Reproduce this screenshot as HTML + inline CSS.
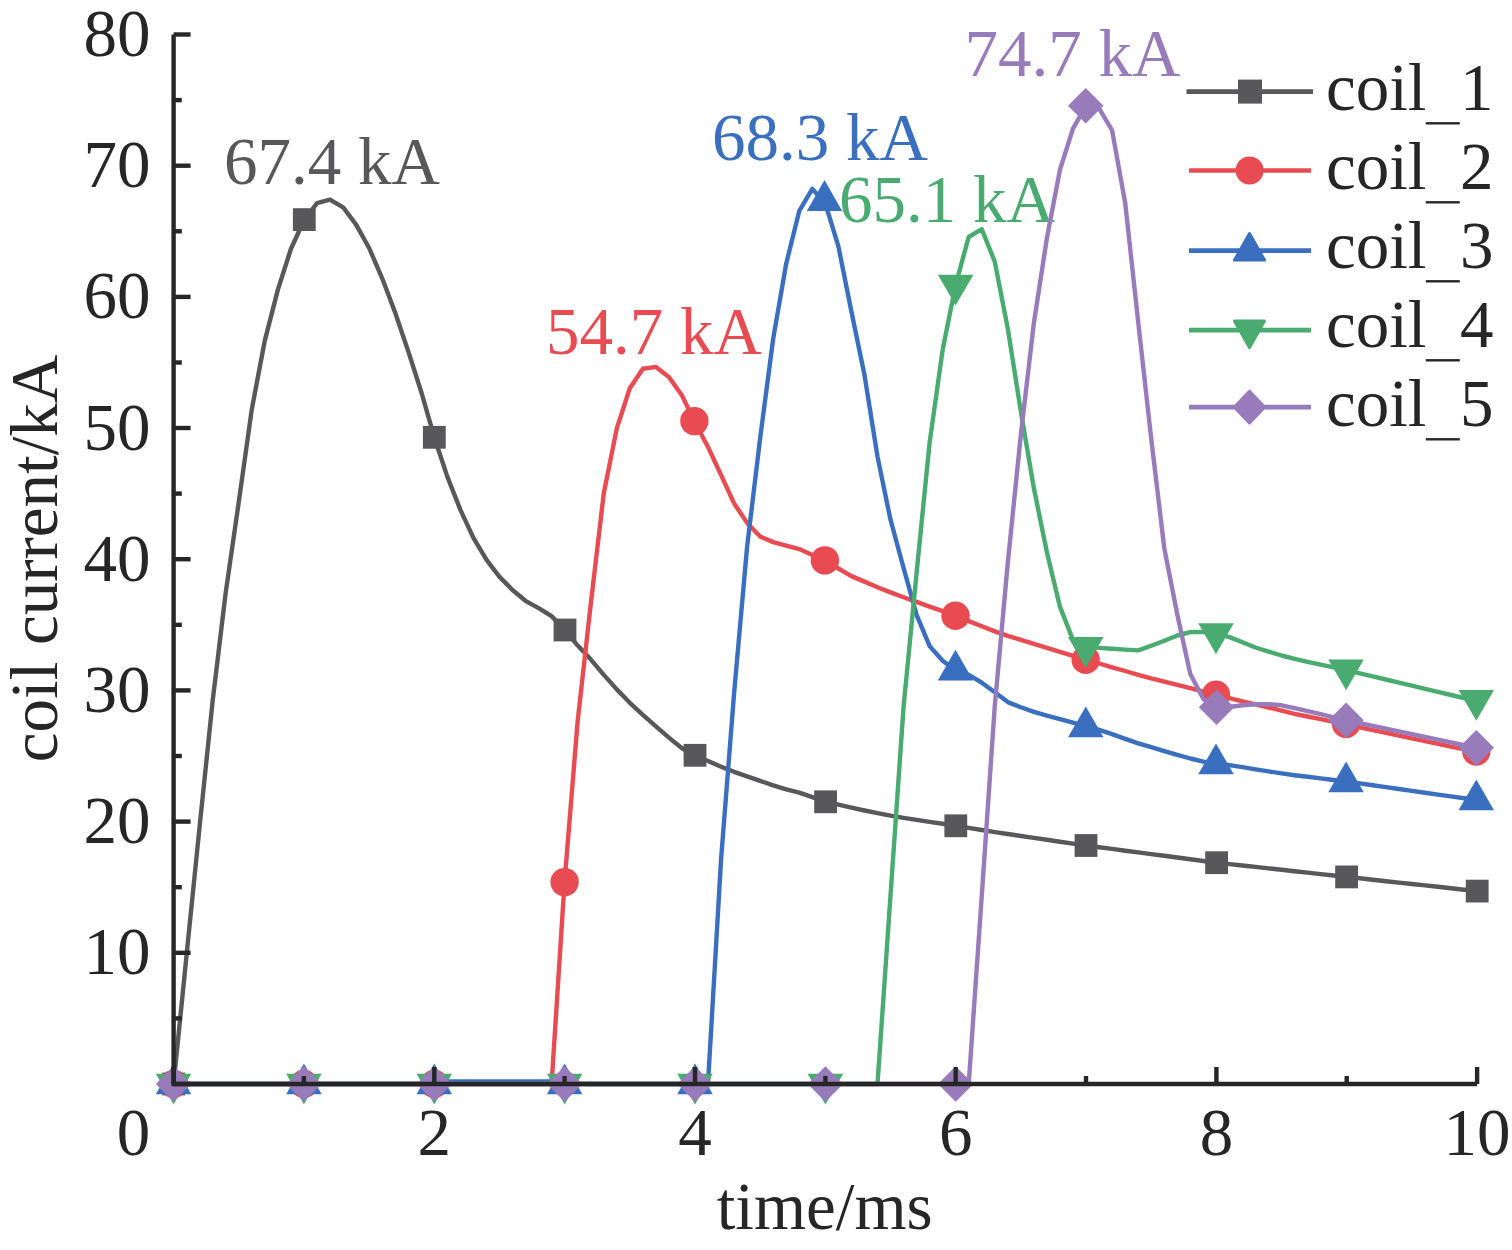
<!DOCTYPE html>
<html><head><meta charset="utf-8"><style>
html,body{margin:0;padding:0;background:#fff;width:1512px;height:1250px;overflow:hidden}
svg{display:block;font-family:"Liberation Serif",serif}
</style></head><body>
<svg width="1512" height="1250" viewBox="0 0 1512 1250">
<rect width="1512" height="1250" fill="#fff"/>
<text x="150.6" y="974.3" font-family="Liberation Serif" font-size="67" text-anchor="end" fill="#262626">10</text>
<text x="150.6" y="843.1" font-family="Liberation Serif" font-size="67" text-anchor="end" fill="#262626">20</text>
<text x="150.6" y="711.9" font-family="Liberation Serif" font-size="67" text-anchor="end" fill="#262626">30</text>
<text x="150.6" y="580.7" font-family="Liberation Serif" font-size="67" text-anchor="end" fill="#262626">40</text>
<text x="150.6" y="449.5" font-family="Liberation Serif" font-size="67" text-anchor="end" fill="#262626">50</text>
<text x="150.6" y="318.4" font-family="Liberation Serif" font-size="67" text-anchor="end" fill="#262626">60</text>
<text x="150.6" y="187.2" font-family="Liberation Serif" font-size="67" text-anchor="end" fill="#262626">70</text>
<text x="150.6" y="56.0" font-family="Liberation Serif" font-size="67" text-anchor="end" fill="#262626">80</text>
<text x="150.3" y="1154.5" font-family="Liberation Serif" font-size="67" text-anchor="end" fill="#262626">0</text>
<text x="434.3" y="1154.5" font-family="Liberation Serif" font-size="67" text-anchor="middle" fill="#262626">2</text>
<text x="695.0" y="1154.5" font-family="Liberation Serif" font-size="67" text-anchor="middle" fill="#262626">4</text>
<text x="955.7" y="1154.5" font-family="Liberation Serif" font-size="67" text-anchor="middle" fill="#262626">6</text>
<text x="1216.4" y="1154.5" font-family="Liberation Serif" font-size="67" text-anchor="middle" fill="#262626">8</text>
<text x="1477.1" y="1154.5" font-family="Liberation Serif" font-size="67" text-anchor="middle" fill="#262626">10</text>
<text x="824.7" y="1229" font-family="Liberation Serif" font-size="67" text-anchor="middle" fill="#262626">time/ms</text>
<text transform="translate(57,558.5) rotate(-90)" x="0" y="0" font-family="Liberation Serif" font-size="67" text-anchor="middle" fill="#262626">coil current/kA</text>
<text x="224.1" y="184.3" font-family="Liberation Serif" font-size="67" fill="#58585b">67.4 kA</text>
<text x="546.0" y="354.2" font-family="Liberation Serif" font-size="67" fill="#e84b52">54.7 kA</text>
<text x="711.9" y="159.5" font-family="Liberation Serif" font-size="67" fill="#3a6fbf">68.3 kA</text>
<text x="839.0" y="221.7" font-family="Liberation Serif" font-size="67" fill="#4aab70">65.1 kA</text>
<text x="964.4" y="76.2" font-family="Liberation Serif" font-size="67" fill="#977bba">74.7 kA</text>
<polyline fill="none" stroke="#58585b" stroke-width="4.4" stroke-linejoin="round" points="173.6,1084.0 186.6,954.8 199.7,825.6 212.7,700.6 225.7,592.8 238.8,501.8 251.8,409.3 264.8,340.6 277.9,289.6 290.9,249.0 303.9,220.5 317.0,203.2 330.0,199.7 343.1,207.3 356.1,224.6 369.1,248.0 382.2,278.3 395.2,312.8 408.2,351.1 421.3,392.0 434.3,437.3 447.3,476.6 460.4,509.8 473.4,537.9 486.4,559.7 499.5,576.9 512.5,590.0 525.5,600.8 538.6,608.1 551.6,616.1 564.6,629.6 577.7,645.6 590.7,659.3 603.8,674.9 616.8,689.4 629.8,702.8 642.9,714.9 655.9,726.3 668.9,737.6 682.0,748.3 695.0,755.3 708.0,761.0 721.1,766.7 734.1,771.8 747.1,776.3 760.2,780.9 773.2,785.4 786.2,789.4 799.3,792.6 812.3,797.1 825.4,801.7 838.4,804.7 851.4,807.6 864.5,810.5 877.5,813.1 890.5,815.7 903.6,817.9 916.6,819.9 929.6,821.9 942.7,823.8 955.7,825.8 968.7,827.9 981.8,830.0 994.8,832.1 1007.8,834.0 1020.9,836.0 1033.9,837.9 1046.9,839.8 1060.0,841.7 1073.0,843.6 1086.0,845.5 1099.1,847.2 1112.1,848.9 1125.2,850.7 1138.2,852.4 1151.2,854.1 1164.3,855.8 1177.3,857.5 1190.3,859.2 1203.4,861.0 1216.4,862.7 1229.4,864.1 1242.5,865.5 1255.5,866.9 1268.5,868.4 1281.6,869.8 1294.6,871.2 1307.6,872.6 1320.7,874.1 1333.7,875.5 1346.8,876.9 1359.8,878.3 1372.8,879.8 1385.9,881.2 1398.9,882.6 1411.9,884.0 1425.0,885.4 1438.0,886.8 1451.0,888.3 1464.1,889.7 1477.1,891.1"/>
<rect x="162.2" y="1072.6" width="22.8" height="22.8" fill="#58585b"/>
<rect x="292.9" y="208.2" width="22.8" height="22.8" fill="#58585b"/>
<rect x="422.9" y="425.9" width="22.8" height="22.8" fill="#58585b"/>
<rect x="553.6" y="618.6" width="22.8" height="22.8" fill="#58585b"/>
<rect x="683.6" y="743.9" width="22.8" height="22.8" fill="#58585b"/>
<rect x="814.2" y="790.4" width="22.8" height="22.8" fill="#58585b"/>
<rect x="944.4" y="814.4" width="22.8" height="22.8" fill="#58585b"/>
<rect x="1074.6" y="834.1" width="22.8" height="22.8" fill="#58585b"/>
<rect x="1205.2" y="851.3" width="22.8" height="22.8" fill="#58585b"/>
<rect x="1335.2" y="865.5" width="22.8" height="22.8" fill="#58585b"/>
<rect x="1465.8" y="879.7" width="22.8" height="22.8" fill="#58585b"/>
<polyline fill="none" stroke="#e84b52" stroke-width="4.4" stroke-linejoin="round" points="173.6,1084.0 186.6,1084.0 199.7,1084.0 212.7,1084.0 225.7,1084.0 238.8,1084.0 251.8,1084.0 264.8,1084.0 277.9,1084.0 290.9,1084.0 303.9,1084.0 317.0,1084.0 330.0,1084.0 343.1,1084.0 356.1,1084.0 369.1,1084.0 382.2,1084.0 395.2,1084.0 408.2,1084.0 421.3,1084.0 434.3,1084.0 447.3,1084.0 460.4,1084.0 473.4,1084.0 486.4,1084.0 499.5,1084.0 512.5,1084.0 525.5,1084.0 538.6,1084.0 551.6,1083.8 564.6,881.5 577.7,720.7 590.7,604.4 603.8,493.2 616.8,428.4 629.8,388.3 642.9,368.8 655.9,366.9 668.9,377.0 682.0,395.6 695.0,422.2 708.0,446.9 721.1,475.2 734.1,503.4 747.1,522.9 760.2,536.6 773.2,542.1 786.2,545.6 799.3,549.1 812.3,554.9 825.4,560.7 838.4,568.5 851.4,576.1 864.5,581.6 877.5,587.2 890.5,592.4 903.6,597.2 916.6,601.9 929.6,606.6 942.7,611.2 955.7,615.9 968.7,621.1 981.8,626.2 994.8,631.4 1007.8,635.9 1020.9,639.9 1033.9,643.9 1046.9,647.9 1060.0,651.9 1073.0,655.9 1086.0,659.9 1099.1,663.5 1112.1,667.3 1125.2,671.0 1138.2,674.8 1151.2,678.4 1164.3,681.7 1177.3,684.9 1190.3,688.2 1203.4,691.6 1216.4,695.1 1229.4,698.2 1242.5,701.3 1255.5,704.4 1268.5,707.5 1281.6,710.6 1294.6,713.8 1307.6,716.5 1320.7,719.2 1333.7,721.9 1346.8,724.6 1359.8,727.4 1372.8,730.1 1385.9,732.9 1398.9,735.6 1411.9,738.4 1425.0,741.2 1438.0,743.9 1451.0,746.7 1464.1,749.4 1477.1,752.0"/>
<circle cx="173.6" cy="1084.0" r="14.2" fill="#e84b52"/>
<circle cx="303.9" cy="1084.0" r="14.2" fill="#e84b52"/>
<circle cx="434.3" cy="1084.0" r="14.2" fill="#e84b52"/>
<circle cx="564.6" cy="882.1" r="14.2" fill="#e84b52"/>
<circle cx="694.4" cy="421.1" r="14.2" fill="#e84b52"/>
<circle cx="824.9" cy="560.4" r="14.2" fill="#e84b52"/>
<circle cx="955.5" cy="615.8" r="14.2" fill="#e84b52"/>
<circle cx="1085.7" cy="659.8" r="14.2" fill="#e84b52"/>
<circle cx="1216.0" cy="694.8" r="14.2" fill="#e84b52"/>
<circle cx="1346.1" cy="724.0" r="14.2" fill="#e84b52"/>
<circle cx="1476.3" cy="751.5" r="14.2" fill="#e84b52"/>
<polyline fill="none" stroke="#3a6fbf" stroke-width="4.4" stroke-linejoin="round" points="173.6,1084.0 186.6,1084.0 199.7,1084.0 212.7,1084.0 225.7,1084.0 238.8,1084.0 251.8,1084.0 264.8,1084.0 277.9,1084.0 290.9,1084.0 303.9,1084.0 317.0,1084.0 330.0,1084.0 343.1,1084.0 356.1,1084.0 369.1,1084.0 382.2,1084.0 395.2,1084.0 408.2,1084.0 421.3,1084.0 434.3,1083.9 447.3,1081.5 460.4,1081.5 473.4,1081.5 486.4,1081.5 499.5,1081.5 512.5,1081.5 525.5,1081.5 538.6,1081.5 551.6,1081.5 564.6,1081.5 577.7,1083.6 590.7,1084.0 603.8,1084.0 616.8,1084.0 629.8,1084.0 642.9,1084.0 655.9,1084.0 668.9,1084.0 682.0,1084.0 695.0,1084.0 708.0,1083.4 721.1,859.0 734.1,693.1 747.1,546.8 760.2,437.8 773.2,338.6 786.2,263.7 799.3,210.8 812.3,188.9 825.4,203.6 838.4,246.4 851.4,311.5 864.5,375.0 877.5,456.6 890.5,519.7 903.6,568.0 916.6,614.9 929.6,646.1 942.7,660.7 955.7,670.4 968.7,674.8 981.8,682.7 994.8,692.3 1007.8,702.1 1020.9,707.2 1033.9,711.9 1046.9,715.6 1060.0,719.2 1073.0,722.7 1086.0,726.1 1099.1,729.8 1112.1,734.2 1125.2,738.8 1138.2,743.3 1151.2,747.2 1164.3,751.1 1177.3,754.9 1190.3,758.5 1203.4,761.6 1216.4,763.1 1229.4,765.1 1242.5,767.2 1255.5,769.3 1268.5,771.4 1281.6,773.4 1294.6,775.2 1307.6,776.8 1320.7,778.4 1333.7,780.0 1346.8,781.6 1359.8,783.4 1372.8,785.3 1385.9,787.1 1398.9,789.0 1411.9,790.9 1425.0,792.7 1438.0,794.6 1451.0,796.4 1464.1,798.3 1477.1,800.0"/>
<polygon points="173.6,1063.5 155.8,1094.3 191.3,1094.3" fill="#3a6fbf"/>
<polygon points="303.9,1063.5 286.2,1094.3 321.7,1094.3" fill="#3a6fbf"/>
<polygon points="434.3,1063.5 416.5,1094.3 452.0,1094.3" fill="#3a6fbf"/>
<polygon points="564.6,1063.5 546.9,1094.3 582.4,1094.3" fill="#3a6fbf"/>
<polygon points="695.0,1063.5 677.2,1094.3 712.8,1094.3" fill="#3a6fbf"/>
<polygon points="824.5,180.1 806.8,210.9 842.2,210.9" fill="#3a6fbf"/>
<polygon points="955.5,649.8 937.8,680.6 973.2,680.6" fill="#3a6fbf"/>
<polygon points="1085.8,706.4 1068.0,737.2 1103.5,737.2" fill="#3a6fbf"/>
<polygon points="1216.0,743.5 1198.2,774.3 1233.8,774.3" fill="#3a6fbf"/>
<polygon points="1346.1,761.5 1328.3,792.3 1363.8,792.3" fill="#3a6fbf"/>
<polygon points="1476.3,779.5 1458.5,810.3 1494.0,810.3" fill="#3a6fbf"/>
<polyline fill="none" stroke="#4aab70" stroke-width="4.4" stroke-linejoin="round" points="173.6,1084.0 186.6,1084.0 199.7,1084.0 212.7,1084.0 225.7,1084.0 238.8,1084.0 251.8,1084.0 264.8,1084.0 277.9,1084.0 290.9,1084.0 303.9,1084.0 317.0,1084.0 330.0,1084.0 343.1,1084.0 356.1,1084.0 369.1,1084.0 382.2,1084.0 395.2,1084.0 408.2,1084.0 421.3,1084.0 434.3,1084.0 447.3,1084.0 460.4,1084.0 473.4,1084.0 486.4,1084.0 499.5,1084.0 512.5,1084.0 525.5,1084.0 538.6,1084.0 551.6,1084.0 564.6,1084.0 577.7,1084.0 590.7,1084.0 603.8,1084.0 616.8,1084.0 629.8,1084.0 642.9,1084.0 655.9,1084.0 668.9,1084.0 682.0,1084.0 695.0,1084.0 708.0,1084.0 721.1,1084.0 734.1,1084.0 747.1,1084.0 760.2,1084.0 773.2,1084.0 786.2,1084.0 799.3,1084.0 812.3,1084.0 825.4,1084.0 838.4,1084.0 851.4,1084.0 864.5,1084.0 877.5,1084.0 890.5,895.3 903.6,706.4 916.6,572.7 929.6,442.7 942.7,349.5 955.7,284.6 968.7,237.0 981.8,229.2 994.8,261.8 1007.8,328.7 1020.9,411.8 1033.9,488.3 1046.9,552.3 1060.0,606.9 1073.0,640.0 1086.0,647.0 1099.1,647.9 1112.1,648.8 1125.2,649.6 1138.2,650.4 1151.2,645.7 1164.3,640.7 1177.3,635.5 1190.3,632.1 1203.4,631.9 1216.4,633.7 1229.4,637.1 1242.5,642.3 1255.5,647.5 1268.5,651.6 1281.6,655.5 1294.6,658.8 1307.6,661.8 1320.7,664.6 1333.7,667.3 1346.8,670.2 1359.8,673.3 1372.8,676.4 1385.9,679.5 1398.9,682.6 1411.9,685.7 1425.0,688.8 1438.0,691.9 1451.0,695.0 1464.1,698.1 1477.1,701.0"/>
<polygon points="155.8,1073.7 191.3,1073.7 173.6,1104.5" fill="#4aab70"/>
<polygon points="286.2,1073.7 321.7,1073.7 303.9,1104.5" fill="#4aab70"/>
<polygon points="416.5,1073.7 452.0,1073.7 434.3,1104.5" fill="#4aab70"/>
<polygon points="546.9,1073.7 582.4,1073.7 564.6,1104.5" fill="#4aab70"/>
<polygon points="677.2,1073.7 712.8,1073.7 695.0,1104.5" fill="#4aab70"/>
<polygon points="807.6,1073.7 843.1,1073.7 825.4,1104.5" fill="#4aab70"/>
<polygon points="937.9,274.7 973.4,274.7 955.6,305.5" fill="#4aab70"/>
<polygon points="1068.0,637.1 1103.5,637.1 1085.7,667.9" fill="#4aab70"/>
<polygon points="1198.2,623.3 1233.8,623.3 1216.0,654.1" fill="#4aab70"/>
<polygon points="1328.3,659.5 1363.8,659.5 1346.1,690.3" fill="#4aab70"/>
<polygon points="1458.5,690.0 1494.0,690.0 1476.3,720.8" fill="#4aab70"/>
<polyline fill="none" stroke="#977bba" stroke-width="4.4" stroke-linejoin="round" points="173.6,1084.0 186.6,1084.0 199.7,1084.0 212.7,1084.0 225.7,1084.0 238.8,1084.0 251.8,1084.0 264.8,1084.0 277.9,1084.0 290.9,1084.0 303.9,1084.0 317.0,1084.0 330.0,1084.0 343.1,1084.0 356.1,1084.0 369.1,1084.0 382.2,1084.0 395.2,1084.0 408.2,1084.0 421.3,1084.0 434.3,1084.0 447.3,1084.0 460.4,1084.0 473.4,1084.0 486.4,1084.0 499.5,1084.0 512.5,1084.0 525.5,1084.0 538.6,1084.0 551.6,1084.0 564.6,1084.0 577.7,1084.0 590.7,1084.0 603.8,1084.0 616.8,1084.0 629.8,1084.0 642.9,1084.0 655.9,1084.0 668.9,1084.0 682.0,1084.0 695.0,1084.0 708.0,1084.0 721.1,1084.0 734.1,1084.0 747.1,1084.0 760.2,1084.0 773.2,1084.0 786.2,1084.0 799.3,1084.0 812.3,1084.0 825.4,1084.0 838.4,1084.0 851.4,1084.0 864.5,1084.0 877.5,1084.0 890.5,1084.0 903.6,1084.0 916.6,1084.0 929.6,1084.0 942.7,1084.0 955.7,1084.0 968.7,1084.0 981.8,895.3 994.8,705.7 1007.8,562.8 1020.9,434.2 1033.9,322.8 1046.9,238.1 1060.0,169.7 1073.0,128.7 1086.0,105.8 1099.1,108.4 1112.1,130.3 1125.2,203.0 1138.2,321.9 1151.2,438.5 1164.3,548.3 1177.3,614.5 1190.3,674.1 1203.4,699.0 1216.4,707.2 1229.4,707.0 1242.5,705.3 1255.5,704.2 1268.5,704.2 1281.6,705.3 1294.6,708.2 1307.6,711.1 1320.7,714.2 1333.7,717.3 1346.8,720.3 1359.8,723.1 1372.8,725.8 1385.9,728.6 1398.9,731.3 1411.9,734.1 1425.0,736.9 1438.0,739.6 1451.0,742.4 1464.1,745.1 1477.1,747.7"/>
<polygon points="173.6,1066.2 191.3,1084.0 173.6,1101.8 155.8,1084.0" fill="#977bba"/>
<polygon points="303.9,1066.2 321.7,1084.0 303.9,1101.8 286.2,1084.0" fill="#977bba"/>
<polygon points="434.3,1066.2 452.0,1084.0 434.3,1101.8 416.5,1084.0" fill="#977bba"/>
<polygon points="564.6,1066.2 582.4,1084.0 564.6,1101.8 546.9,1084.0" fill="#977bba"/>
<polygon points="695.0,1066.2 712.8,1084.0 695.0,1101.8 677.2,1084.0" fill="#977bba"/>
<polygon points="825.4,1066.2 843.1,1084.0 825.4,1101.8 807.6,1084.0" fill="#977bba"/>
<polygon points="955.7,1066.2 973.4,1084.0 955.7,1101.8 937.9,1084.0" fill="#977bba"/>
<polygon points="1085.7,88.0 1103.5,105.7 1085.7,123.5 1068.0,105.7" fill="#977bba"/>
<polygon points="1216.5,689.5 1234.2,707.3 1216.5,725.0 1198.8,707.3" fill="#977bba"/>
<polygon points="1346.1,702.5 1363.8,720.2 1346.1,738.0 1328.3,720.2" fill="#977bba"/>
<polygon points="1476.3,730.0 1494.0,747.7 1476.3,765.5 1458.5,747.7" fill="#977bba"/>
<path d="M173.6,34.5 V1084 H1477.1" fill="none" stroke="#262626" stroke-width="4.4" stroke-linejoin="miter"/>
<line x1="173.6" y1="1084.0" x2="190.6" y2="1084.0" stroke="#262626" stroke-width="4.4"/>
<line x1="173.6" y1="952.8" x2="190.6" y2="952.8" stroke="#262626" stroke-width="4.4"/>
<line x1="173.6" y1="821.6" x2="190.6" y2="821.6" stroke="#262626" stroke-width="4.4"/>
<line x1="173.6" y1="690.4" x2="190.6" y2="690.4" stroke="#262626" stroke-width="4.4"/>
<line x1="173.6" y1="559.2" x2="190.6" y2="559.2" stroke="#262626" stroke-width="4.4"/>
<line x1="173.6" y1="428.0" x2="190.6" y2="428.0" stroke="#262626" stroke-width="4.4"/>
<line x1="173.6" y1="296.9" x2="190.6" y2="296.9" stroke="#262626" stroke-width="4.4"/>
<line x1="173.6" y1="165.7" x2="190.6" y2="165.7" stroke="#262626" stroke-width="4.4"/>
<line x1="173.6" y1="34.5" x2="190.6" y2="34.5" stroke="#262626" stroke-width="4.4"/>
<line x1="173.6" y1="1018.4" x2="181.8" y2="1018.4" stroke="#262626" stroke-width="4.4"/>
<line x1="173.6" y1="887.2" x2="181.8" y2="887.2" stroke="#262626" stroke-width="4.4"/>
<line x1="173.6" y1="756.0" x2="181.8" y2="756.0" stroke="#262626" stroke-width="4.4"/>
<line x1="173.6" y1="624.8" x2="181.8" y2="624.8" stroke="#262626" stroke-width="4.4"/>
<line x1="173.6" y1="493.6" x2="181.8" y2="493.6" stroke="#262626" stroke-width="4.4"/>
<line x1="173.6" y1="362.5" x2="181.8" y2="362.5" stroke="#262626" stroke-width="4.4"/>
<line x1="173.6" y1="231.3" x2="181.8" y2="231.3" stroke="#262626" stroke-width="4.4"/>
<line x1="173.6" y1="100.1" x2="181.8" y2="100.1" stroke="#262626" stroke-width="4.4"/>
<line x1="173.6" y1="1084" x2="173.6" y2="1067" stroke="#262626" stroke-width="4.4"/>
<line x1="434.3" y1="1084" x2="434.3" y2="1067" stroke="#262626" stroke-width="4.4"/>
<line x1="695.0" y1="1084" x2="695.0" y2="1067" stroke="#262626" stroke-width="4.4"/>
<line x1="955.7" y1="1084" x2="955.7" y2="1067" stroke="#262626" stroke-width="4.4"/>
<line x1="1216.4" y1="1084" x2="1216.4" y2="1067" stroke="#262626" stroke-width="4.4"/>
<line x1="1477.1" y1="1084" x2="1477.1" y2="1067" stroke="#262626" stroke-width="4.4"/>
<line x1="303.9" y1="1084" x2="303.9" y2="1076" stroke="#262626" stroke-width="4.4"/>
<line x1="564.6" y1="1084" x2="564.6" y2="1076" stroke="#262626" stroke-width="4.4"/>
<line x1="825.4" y1="1084" x2="825.4" y2="1076" stroke="#262626" stroke-width="4.4"/>
<line x1="1086.0" y1="1084" x2="1086.0" y2="1076" stroke="#262626" stroke-width="4.4"/>
<line x1="1346.7" y1="1084" x2="1346.7" y2="1076" stroke="#262626" stroke-width="4.4"/>
<line x1="1186.5" y1="91.6" x2="1313.0" y2="91.6" stroke="#58585b" stroke-width="4.6"/>
<rect x="1238.0" y="79.6" width="24.0" height="24.0" fill="#58585b"/>
<text x="1326" y="110.1" font-family="Liberation Serif" font-size="67" fill="#262626">coil<tspan dx="33.5">1</tspan></text>
<rect x="1425.8" y="122.1" width="34" height="2.4" fill="#262626"/>
<line x1="1189.0" y1="170.5" x2="1311.0" y2="170.5" stroke="#e84b52" stroke-width="4.6"/>
<circle cx="1249.6" cy="170.5" r="14.0" fill="#e84b52"/>
<text x="1326" y="189.1" font-family="Liberation Serif" font-size="67" fill="#262626">coil<tspan dx="33.5">2</tspan></text>
<rect x="1425.8" y="201.1" width="34" height="2.4" fill="#262626"/>
<line x1="1189.0" y1="250.6" x2="1311.0" y2="250.6" stroke="#3a6fbf" stroke-width="4.6"/>
<polygon points="1249.5,233.6 1234.5,260.1 1264.5,260.1" fill="#3a6fbf" stroke="#3a6fbf" stroke-width="3" stroke-linejoin="round"/>
<text x="1326" y="268.1" font-family="Liberation Serif" font-size="67" fill="#262626">coil<tspan dx="33.5">3</tspan></text>
<rect x="1425.8" y="280.1" width="34" height="2.4" fill="#262626"/>
<line x1="1189.0" y1="330.1" x2="1311.0" y2="330.1" stroke="#4aab70" stroke-width="4.6"/>
<polygon points="1234.5,321.1 1264.5,321.1 1249.5,347.6" fill="#4aab70" stroke="#4aab70" stroke-width="3" stroke-linejoin="round"/>
<text x="1326" y="347.1" font-family="Liberation Serif" font-size="67" fill="#262626">coil<tspan dx="33.5">4</tspan></text>
<rect x="1425.8" y="359.1" width="34" height="2.4" fill="#262626"/>
<line x1="1189.0" y1="407.1" x2="1311.0" y2="407.1" stroke="#977bba" stroke-width="4.6"/>
<polygon points="1249.5,390.8 1265,407.1 1249.5,423.4 1234,407.1" fill="#977bba" stroke="#977bba" stroke-width="2.5" stroke-linejoin="round"/>
<text x="1326" y="426.1" font-family="Liberation Serif" font-size="67" fill="#262626">coil<tspan dx="33.5">5</tspan></text>
<rect x="1425.8" y="438.1" width="34" height="2.4" fill="#262626"/>
</svg>
</body></html>
